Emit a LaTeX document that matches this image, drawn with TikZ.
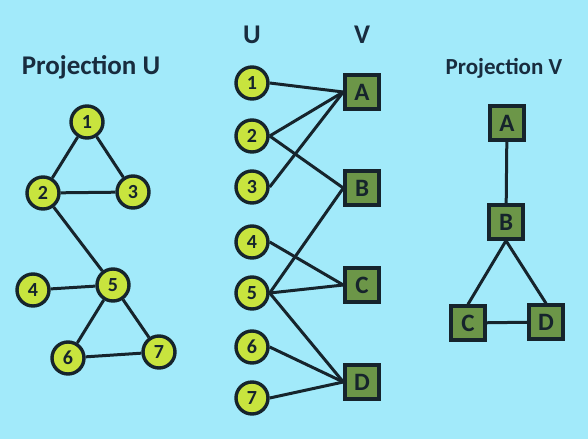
\documentclass[tikz,border=0pt]{standalone}
\usepackage{fontspec}
\setmainfont{Carlito}
\usepackage{tikz}
\definecolor{bg}{RGB}{162,234,250}
\definecolor{ufill}{RGB}{200,228,62}
\definecolor{vfill}{RGB}{108,150,72}
\definecolor{edge}{RGB}{22,36,44}
\definecolor{ink}{RGB}{24,44,62}

\begin{document}
\begin{tikzpicture}[x=0.5pt, y=-0.5pt,
    unode/.style={draw=edge, line width=1.7pt, shape=circle, fill=ufill, inner sep=0pt, minimum size=16pt, font=\bfseries\fontsize{10}{10}\selectfont, text=edge},
    vnode/.style={draw=edge, line width=1.7pt, shape=rectangle, fill=vfill, inner sep=0pt, minimum size=17pt, font=\bfseries\fontsize{12.5}{12.5}\selectfont, text=edge},
    title/.style={font=\bfseries\fontsize{13.5}{13.5}\selectfont, text=ink},
    link/.style={draw=edge, line width=1.5pt}]
    \fill[bg] (0,0) rectangle (588,439);
    \useasboundingbox (0,0) rectangle (588,439);

    % projection U
    \node(tU)[title] at (91, 67) {Projection U};
    \node(p1)[unode] at (87, 122) {1};
    \node(p2)[unode] at (43, 193) {2};
    \node(p3)[unode] at (133, 192) {3};
    \node(p4)[unode] at (33, 290) {4};
    \node(p5)[unode] at (113, 285) {5};
    \node(p6)[unode] at (68, 358) {6};
    \node(p7)[unode] at (159, 352) {7};
    \draw[link] (p1) -- (p2);
    \draw[link] (p1) -- (p3);
    \draw[link] (p2) -- (p3);
    \draw[link] (p2) -- (p5);
    \draw[link] (p4) -- (p5);
    \draw[link] (p5) -- (p6);
    \draw[link] (p5) -- (p7);
    \draw[link] (p6) -- (p7);

    % bipartite graph
    \node(lU)[title] at (252, 35) {U};
    \node(lV)[title] at (362, 35) {V};
    \node(u1)[unode] at (252, 83) {1};
    \node(u2)[unode] at (252, 136) {2};
    \node(u3)[unode] at (252, 187) {3};
    \node(u4)[unode] at (252, 242) {4};
    \node(u5)[unode] at (252, 293) {5};
    \node(u6)[unode] at (252, 347) {6};
    \node(u7)[unode] at (252, 398) {7};
    \node(vA)[vnode] at (362, 92) {A};
    \node(vB)[vnode] at (362, 188) {B};
    \node(vC)[vnode] at (362, 285) {C};
    \node(vD)[vnode] at (362, 382) {D};
    \draw[link] (u1.east) -- (vA.west);
    \draw[link] (u2.east) -- (vA.west);
    \draw[link] (u3.east) -- (vA.west);
    \draw[link] (u2.east) -- (vB.west);
    \draw[link] (u5.east) -- (vB.west);
    \draw[link] (u4.east) -- (vC.west);
    \draw[link] (u5.east) -- (vC.west);
    \draw[link] (u5.east) -- (vD.west);
    \draw[link] (u6.east) -- (vD.west);
    \draw[link] (u7.east) -- (vD.west);

    % projection V
    \node(tV)[title, font=\bfseries\fontsize{11.5}{11.5}\selectfont] at (504, 68) {Projection V};
    \node(qA)[vnode] at (507, 123) {A};
    \node(qB)[vnode] at (506, 222) {B};
    \node(qC)[vnode] at (468, 323) {C};
    \node(qD)[vnode] at (546, 322) {D};
    \draw[link] (qA) -- (qB);
    \draw[link] (qB.south) -- (qC.north);
    \draw[link] (qB.south) -- (qD.north);
    \draw[link] (qC) -- (qD);
\end{tikzpicture}
\end{document}
